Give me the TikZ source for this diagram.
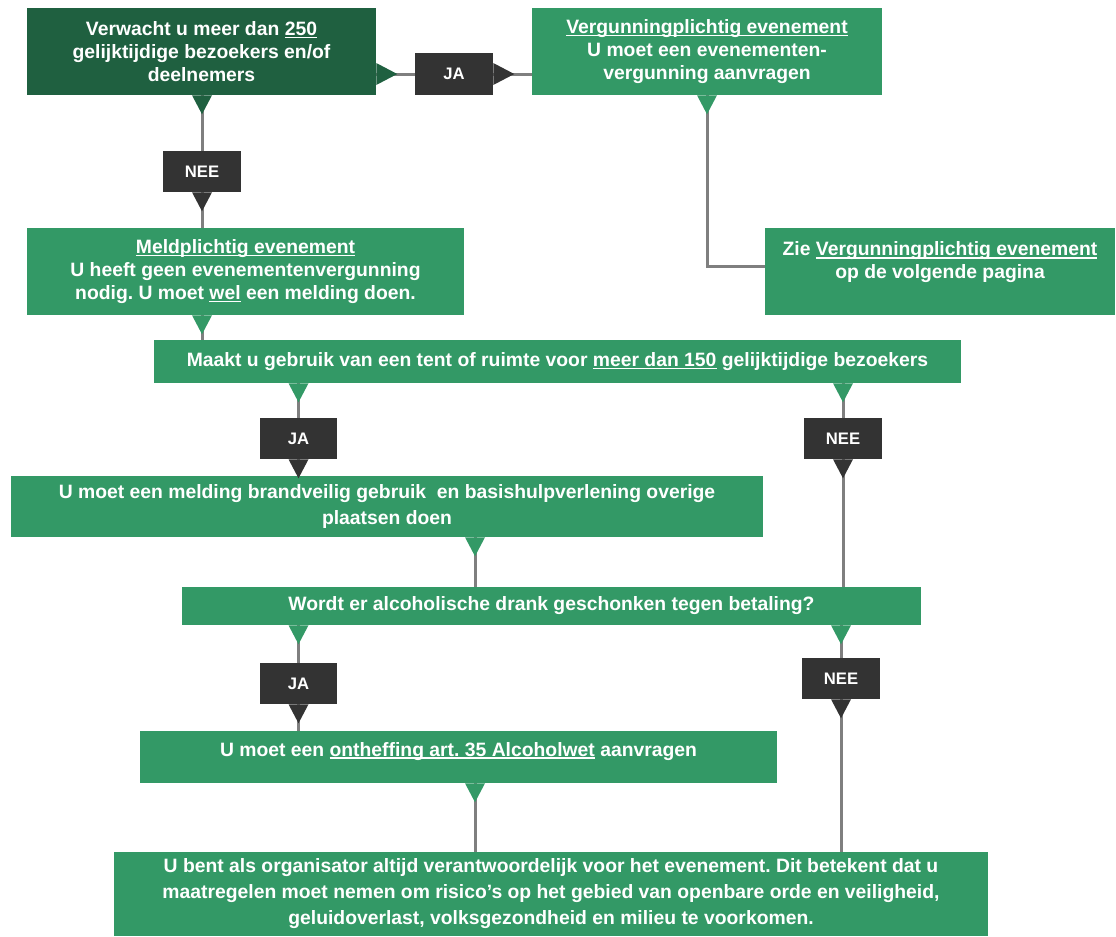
\documentclass[tikz,border=0pt]{standalone}
\usepackage{fontspec}
\setmainfont{Liberation Sans}
\frenchspacing

\definecolor{boxgreen}{HTML}{339966}
\definecolor{darkgreen}{HTML}{1F6040}
\definecolor{labelgray}{HTML}{333333}
\definecolor{linegray}{HTML}{7F7F7F}

\newsavebox{\onderbox}
\newcommand{\onder}[1]{\sbox{\onderbox}{#1}\rlap{\rule[-2pt]{\wd\onderbox}{0.9pt}}\usebox{\onderbox}}

\tikzset{
    box/.style={fill=boxgreen, text=white, align=center, inner sep=0pt,
        font=\bfseries\fontsize{14.5}{17}\selectfont},
    boxsize/.style 2 args={minimum width=#1*0.75pt, minimum height=#2*0.75pt},
    answer/.style={box, fill=labelgray, font=\bfseries\fontsize{12.5}{15}\selectfont},
    link/.style={draw=linegray, line width=2.25pt},
    pics/tabdown/.style={code={\fill[#1] (-10,0) -- (10,0) -- (0,19) -- cycle;}},
    pics/tabright/.style={code={\fill[#1] (0,-11) -- (0,11) -- (21,0) -- cycle;}}
}

\begin{document}
\begin{tikzpicture}[x=0.75pt, y=-0.75pt]
    \useasboundingbox (0,0) rectangle (1116,936);

    % Question boxes and outcomes
    \node[box, fill=darkgreen, boxsize={349}{87}] (start) at (201.5,51.5)
        {Verwacht u meer dan \onder{250}\\gelijktijdige bezoekers en/of\\deelnemers};
    \node[box, boxsize={350}{87}] (verg) at (707,51.5)
        {\onder{Vergunningplichtig evenement}\\U moet een evenementen-\\vergunning aanvragen};
    \node[box, boxsize={350}{87}] (zie) at (940,271.5)
        {Zie \onder{Vergunningplichtig evenement}\\op de volgende pagina\\\mbox{}};
    \node[box, boxsize={437}{87}] (meld) at (245.5,271.5)
        {\onder{Meldplichtig evenement}\\U heeft geen evenementenvergunning\\nodig. U moet \onder{wel} een melding doen.};
    \node[box, boxsize={807}{43}] (tent) at (557.5,361.5)
        {Maakt u gebruik van een tent of ruimte voor \onder{meer dan 150} gelijktijdige bezoekers};
    \node[box, boxsize={752}{61}, font=\bfseries\fontsize{14.5}{19}\selectfont] (brand) at (387,506.5)
        {U moet een melding brandveilig gebruik\ \ en basishulpverlening overige\\plaatsen doen};
    \node[box, boxsize={739}{38}] (drank) at (551.5,606)
        {Wordt er alcoholische drank geschonken tegen betaling?};
    \node[box, boxsize={637}{52}, text depth=12pt] (onth) at (458.5,757)
        {U moet een \onder{ontheffing art. 35 Alcoholwet} aanvragen};
    \node[box, boxsize={874}{84}, font=\bfseries\fontsize{14.5}{19.5}\selectfont] (slot) at (551,894)
        {U bent als organisator altijd verantwoordelijk voor het evenement. Dit betekent dat u\\
         maatregelen moet nemen om risico’s op het gebied van openbare orde en veiligheid,\\
         geluidoverlast, volksgezondheid en milieu te voorkomen.};

    % Answers
    \node[answer, boxsize={78}{42}] (ja1) at (454,74) {JA};
    \node[answer, boxsize={78}{41}] (nee1) at (202,171.5) {NEE};
    \node[answer, boxsize={77}{41}] (ja2) at (298.5,438.5) {JA};
    \node[answer, boxsize={78}{41}] (nee2) at (843,438.5) {NEE};
    \node[answer, boxsize={77}{41}] (ja3) at (298.5,683.5) {JA};
    \node[answer, boxsize={78}{41}] (nee3) at (841,678.5) {NEE};
    \coordinate (spine) at (475,0);

    % Connectors
    \draw[link] (start.east |- ja1.west) -- (ja1.west);
    \draw[link] (ja1.east) -- (verg.west |- ja1.east);
    \draw[link] (verg.south) |- ([yshift=3.4pt]zie.west);
    \draw[link] (start.south -| nee1) -- (nee1.north);
    \draw[link] (nee1.south) -- (meld.north -| nee1);
    \draw[link] (meld.south -| nee1) -- (tent.north -| nee1);
    \draw[link] (tent.south -| ja2) -- (ja2.north);
    \draw[link] (ja2.south) -- (brand.north -| ja2);
    \draw[link] (tent.south -| nee2) -- (nee2.north);
    \draw[link] (nee2.south) -- (drank.north -| nee2);
    \draw[link] (brand.south -| spine) -- (drank.north -| spine);
    \draw[link] (drank.south -| ja3) -- (ja3.north);
    \draw[link] (ja3.south) -- (onth.north -| ja3);
    \draw[link] (drank.south -| nee3) -- (nee3.north);
    \draw[link] (nee3.south) -- (slot.north -| nee3);
    \draw[link] (onth.south -| spine) -- (slot.north -| spine);

    % Pointer tabs
    \pic at (start.east |- ja1.west) {tabright=darkgreen};
    \pic at (ja1.east) {tabright=labelgray};
    \pic at (start.south -| nee1) {tabdown=darkgreen};
    \pic at (verg.south) {tabdown=boxgreen};
    \pic at (nee1.south) {tabdown=labelgray};
    \pic at (meld.south -| nee1) {tabdown=boxgreen};
    \pic at (tent.south -| ja2) {tabdown=boxgreen};
    \pic at (tent.south -| nee2) {tabdown=boxgreen};
    \pic at (ja2.south) {tabdown=labelgray};
    \pic at (nee2.south) {tabdown=labelgray};
    \pic at (brand.south -| spine) {tabdown=boxgreen};
    \pic at (drank.south -| ja3) {tabdown=boxgreen};
    \pic at (drank.south -| nee3) {tabdown=boxgreen};
    \pic at (ja3.south) {tabdown=labelgray};
    \pic at (nee3.south) {tabdown=labelgray};
    \pic at (onth.south -| spine) {tabdown=boxgreen};
\end{tikzpicture}
\end{document}
